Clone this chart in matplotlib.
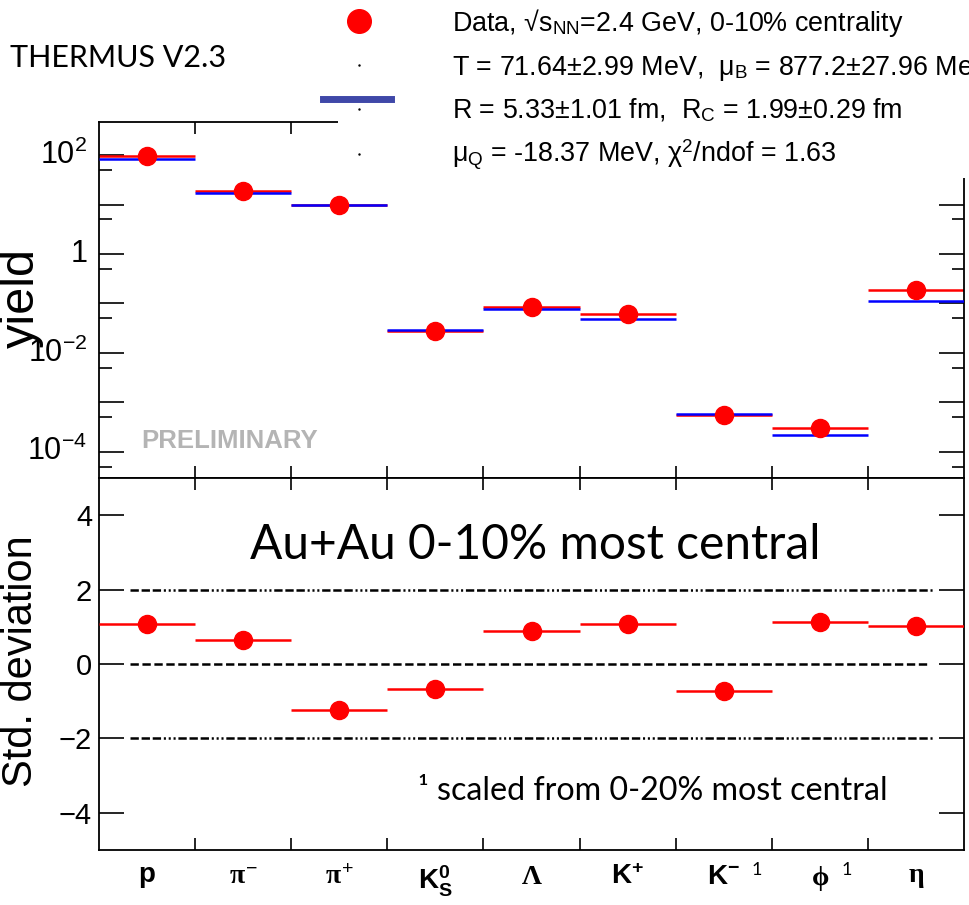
import matplotlib
matplotlib.use('Agg')
import matplotlib.pyplot as plt
from matplotlib.lines import Line2D
from matplotlib.patches import Rectangle
from matplotlib.ticker import FixedLocator, NullLocator, NullFormatter

plt.rcParams['font.family'] = ['Liberation Sans', 'DejaVu Sans']
plt.rcParams['mathtext.fontset'] = 'custom'
plt.rcParams['mathtext.rm'] = 'Liberation Sans'
plt.rcParams['mathtext.bf'] = 'Liberation Sans:bold'
plt.rcParams['mathtext.it'] = 'Liberation Serif:bold'
plt.rcParams['mathtext.sf'] = 'Liberation Serif:bold'
plt.rcParams['lines.scale_dashes'] = False

# particle species, one bin each
particles = [r'$\mathbf{p}$', r'$\pi^{-}$', r'$\pi^{+}$', r'$\mathbf{K^{0}_{S}}$',
             r'$\mathsf{\Lambda}$', r'$\mathbf{K^{+}}$', r'$\mathbf{K^{-}}$',
             r'$\phi$', r'$\eta$']
yield_data = [97, 18.5, 9.6, 0.0277, 0.085, 0.0605, 5.6e-4, 3.0e-4, 0.19]
yield_model = [82, 17.1, 9.9, 0.029, 0.0766, 0.0493, 5.7e-4, 2.2e-4, 0.113]
std_dev = [1.07, 0.65, -1.24, -0.66, 0.895, 1.075, -0.72, 1.14, 1.03]
footnoted = [6, 7]  # K- and phi, scaled from 0-20%

yield_ticks = [1e-4, 1e-2, 1, 1e2]
yield_ticklabels = [r'$\mathregular{10^{-4}}$', r'$\mathregular{10^{-2}}$', '1',
                    r'$\mathregular{10^{2}}$']
dev_ticks = [-4, -2, 0, 2, 4]
dev_ticklabels = ['\u22124', '\u22122', '0', '2', '4']

legend_lines = [r'Data, √s$_{\mathregular{NN}}$=2.4 GeV, 0-10% centrality',
                r'T = 71.64±2.99 MeV,  μ$_{\mathregular{B}}$ = 877.2±27.96 MeV',
                r'R = 5.33±1.01 fm,  R$_{\mathregular{C}}$ = 1.99±0.29 fm',
                r'μ$_{\mathregular{Q}}$ = -18.37 MeV, χ$^{\mathregular{2}}$/ndof = 1.63']

n = len(particles)
edges = list(range(n + 1))
centers = [i + 0.5 for i in range(n)]

W, H = 969, 905
fig = plt.figure(figsize=(W / 100, H / 100), dpi=100)
ax1 = fig.add_axes([99 / W, 1 - 478 / H, 865 / W, 356 / H])
ax2 = fig.add_axes([99 / W, 1 - 850 / H, 865 / W, 372 / H])

for ax in (ax1, ax2):
    ax.set_xlim(0, n)
    for s in ax.spines.values():
        s.set_linewidth(1.3)
    ax.tick_params(which='both', direction='in', top=True, right=True, width=1.2)
    ax.xaxis.set_major_locator(FixedLocator(edges[1:-1]))
    ax.xaxis.set_major_formatter(NullFormatter())
    ax.tick_params(axis='x', which='major', length=8.5)
    ax.tick_params(axis='y', which='major', length=18)

# top panel: yields
ax1.hlines(yield_data, edges[:-1], edges[1:], color='red', lw=1.8, zorder=2)
ax1.hlines(yield_model, edges[:-1], edges[1:], color='blue', lw=1.8, zorder=3)
ax1.plot(centers, yield_data, 'o', color='red', ms=13, mec='red', zorder=4)
ax1.set_yscale('log')
ax1.set_ylim(10 ** -4.53, 10 ** 2.67)
ax1.yaxis.set_major_locator(FixedLocator([10.0 ** k for k in range(-5, 4)]))
ax1.yaxis.set_major_formatter(NullFormatter())
ax1.yaxis.set_minor_locator(FixedLocator([5 * 10.0 ** k for k in range(-6, 3)]))
ax1.yaxis.set_minor_formatter(NullFormatter())
ax1.xaxis.set_minor_locator(NullLocator())
ax1.tick_params(axis='y', which='minor', length=9)
for yv, lab in zip(yield_ticks, yield_ticklabels):
    ax1.annotate(lab, xy=(0, yv), xycoords=('axes fraction', 'data'),
                 xytext=(-8.5, 0), textcoords='offset points',
                 ha='right', va='center', fontsize=22)
ax1.text(0.1514, 0.104, 'PRELIMINARY', transform=ax1.transAxes, color='#b4b4b4',
         fontsize=18.5, fontweight='bold', ha='center', va='center')

# bottom panel: deviations
ax2.hlines(std_dev, edges[:-1], edges[1:], color='red', lw=1.8, zorder=3)
ax2.plot(centers, std_dev, 'o', color='red', ms=13, zorder=4)
ax2.set_ylim(-5, 5)
ax2.set_yticks(dev_ticks, dev_ticklabels)
ax2.tick_params(axis='y', labelsize=21, pad=5)
dashdot3 = [6, 2, 6, 2, 6, 2, 1.5, 2, 1.5, 2, 1.5, 2]
ax2.axhline(2, xmin=0.036, xmax=0.964, color='black', lw=1.8, dashes=dashdot3)
ax2.axhline(-2, xmin=0.036, xmax=0.964, color='black', lw=1.8, dashes=dashdot3)
ax2.axhline(0, xmin=0.036, xmax=0.958, color='black', lw=1.8, dashes=[6, 2.6])
ax2.set_xticks(centers, particles, minor=True)
ax2.tick_params(axis='x', which='minor', length=0, labelsize=20, pad=10)
for i, dx in zip(footnoted, [24, 19.5]):
    ax2.annotate('1', xy=(centers[i], 0), xycoords=('data', 'axes fraction'),
                 xytext=(dx, -18), textcoords='offset points', ha='center',
                 va='baseline', fontsize=13, family='Lato')

ax2.text(0.1746, 0.782, 'Au+Au 0-10% most central', transform=ax2.transAxes,
         fontsize=34.5, family='Lato', va='baseline', ha='left')
ax2.text(0.3688, 0.1344, '¹ scaled from 0-20% most central', transform=ax2.transAxes,
         fontsize=23.2, family='Lato', va='baseline', ha='left')

fig.text(21 / W, 1 - 298 / H, 'yield', rotation=90, ha='center', va='center', fontsize=35)
fig.text(21 / W, 1 - 661 / H, 'Std. deviation', rotation=90, ha='center', va='center',
         fontsize=30)

# legend block
fig.add_artist(Rectangle((338 / W, 1 - 178 / H), 1, 1, transform=fig.transFigure,
                         facecolor='white', edgecolor='none', zorder=5))
fig.add_artist(Line2D([359 / W], [1 - 21 / H], marker='o', ms=17, color='red',
                      transform=fig.transFigure, zorder=6))
fig.add_artist(Line2D([323 / W, 391 / W], [1 - 99 / H] * 2, lw=5, color='#3f48a8',
                      transform=fig.transFigure, zorder=6))
for yy in [65, 109, 154]:
    fig.add_artist(Line2D([359 / W], [1 - yy / H], marker='.', ms=1.5, color='black',
                          transform=fig.transFigure, zorder=6))
for yy, txt in zip([31, 75, 118, 162], legend_lines):
    fig.text(452 / W, 1 - yy / H, txt, fontsize=19.4, va='baseline', ha='left', zorder=7)

fig.text(10 / W, 1 - 67 / H, 'THERMUS V2.3', fontsize=22, family='Lato', va='baseline')

fig.savefig('out.png', dpi=100)
